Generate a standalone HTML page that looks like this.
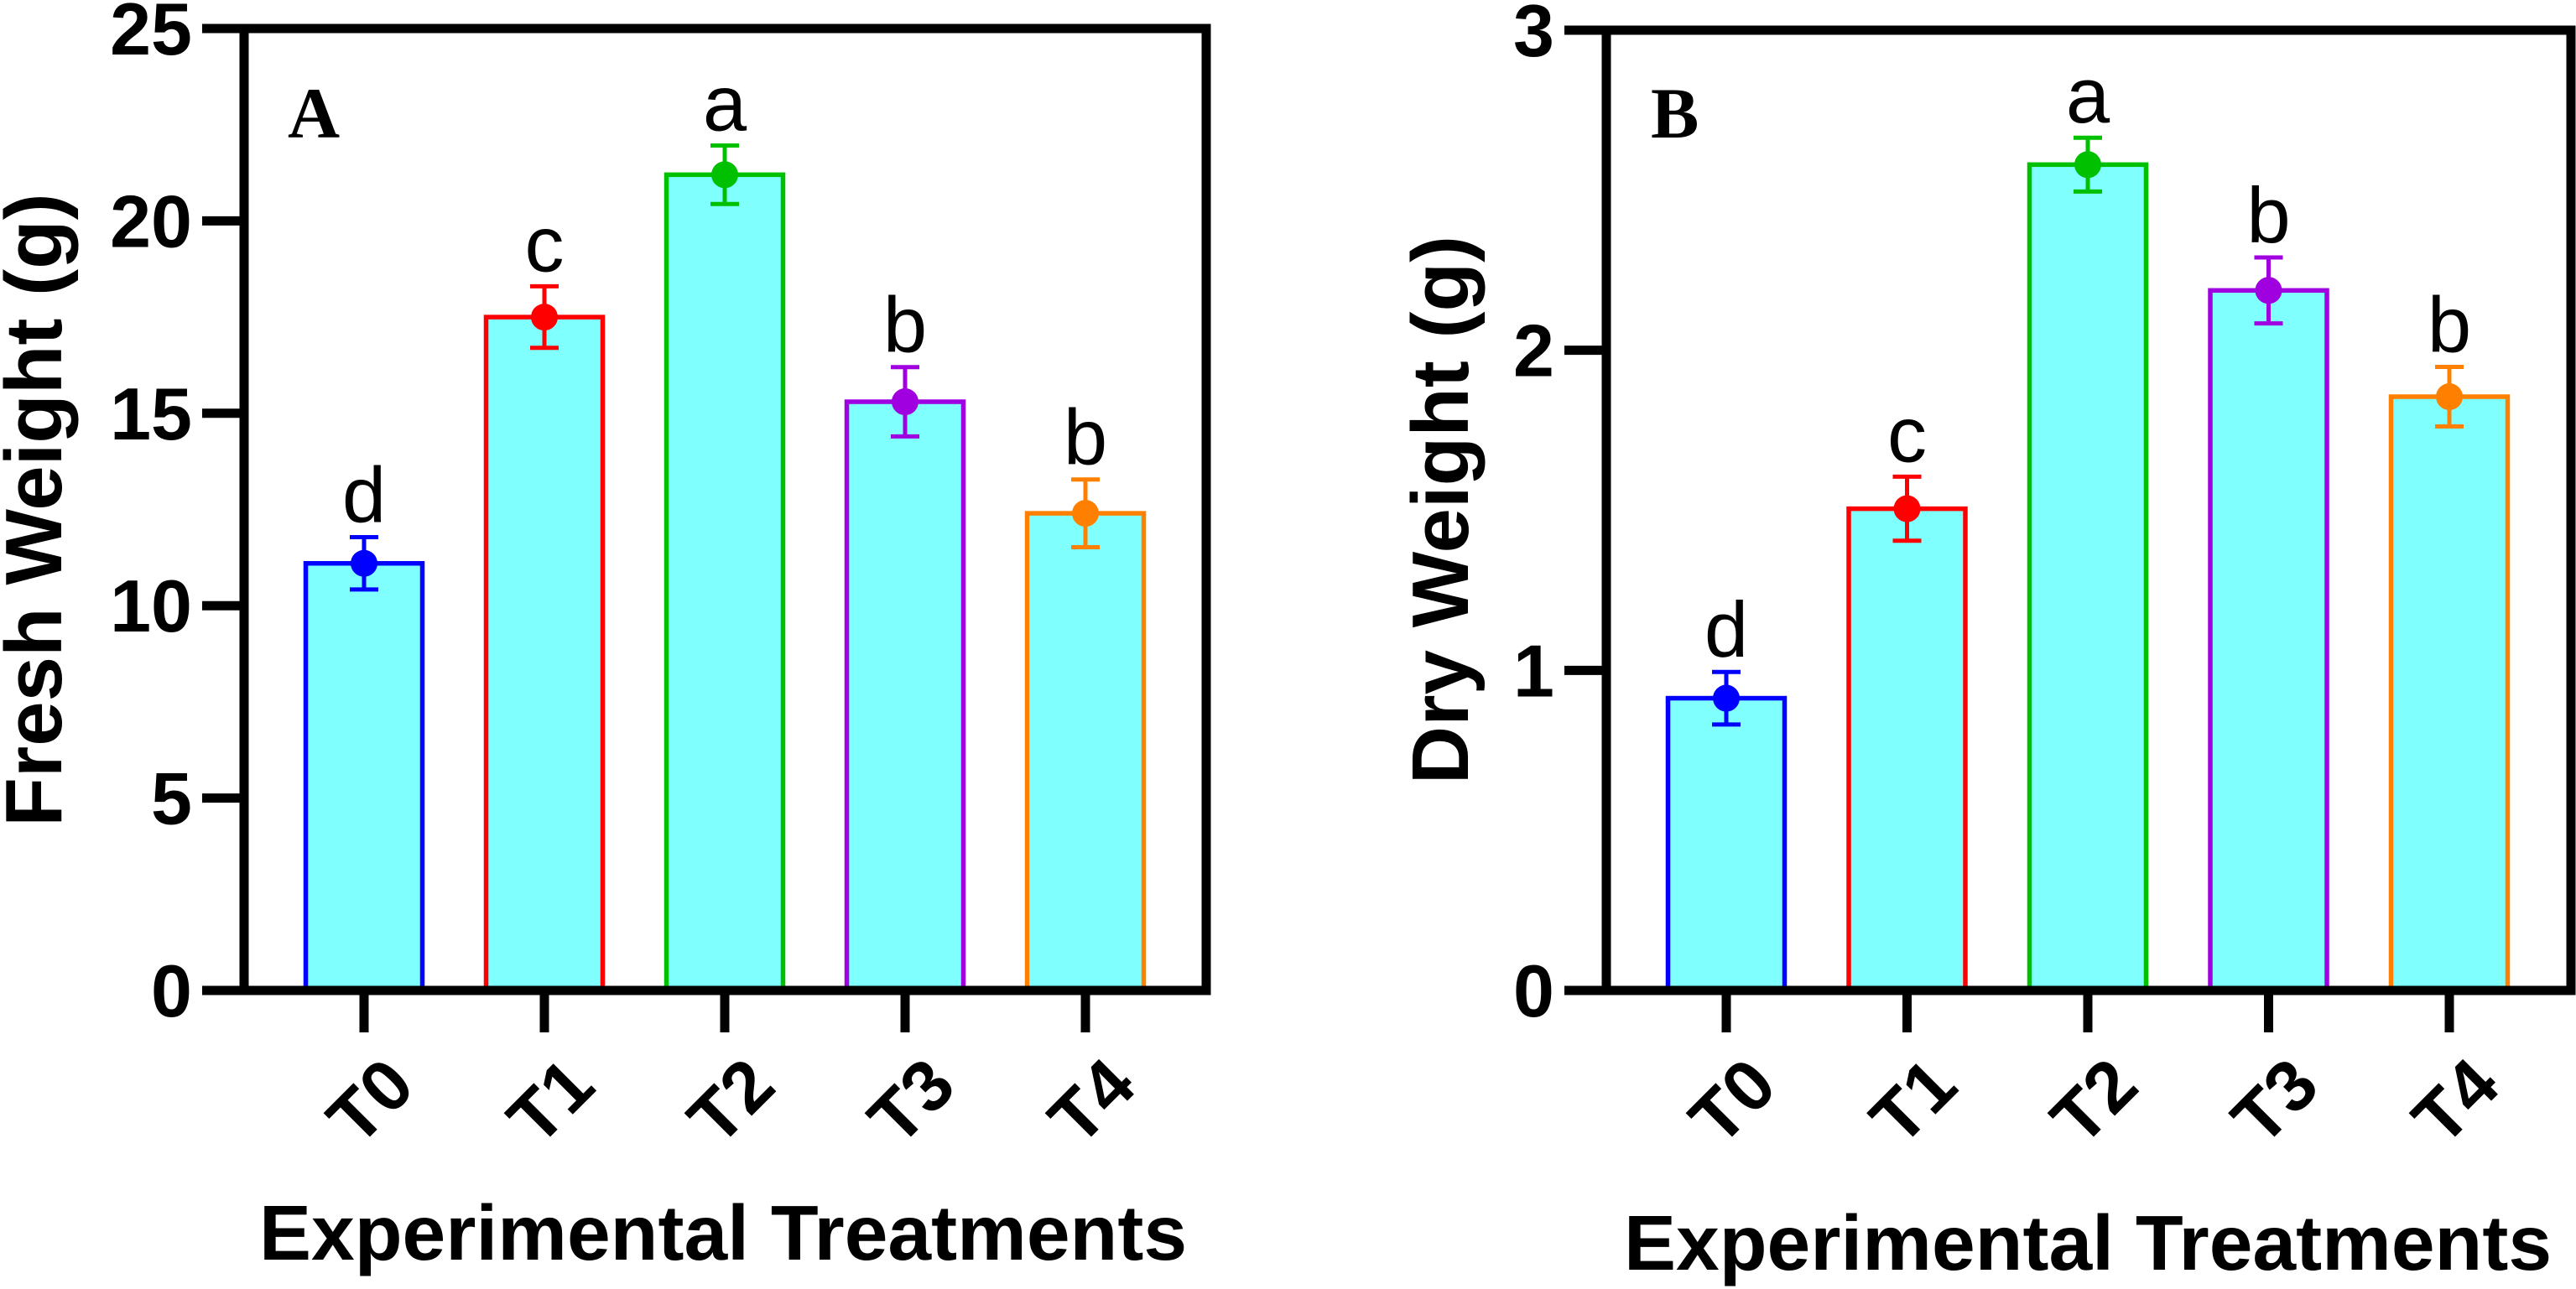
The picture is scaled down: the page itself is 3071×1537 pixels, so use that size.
<!DOCTYPE html>
<html><head><meta charset="utf-8"><style>
html,body{margin:0;padding:0;background:#fff;}
svg{display:block;}
text{font-family:"Liberation Sans",Arial,sans-serif;}
text.serif{font-family:"Liberation Serif","Times New Roman",serif;}
</style></head><body>
<svg id="chart" width="3071" height="1537" viewBox="0 0 3071 1537" xmlns="http://www.w3.org/2000/svg"></svg>
<script>
const categories = ["T0","T1","T2","T3","T4"];
const colors = ["#0000ff","#ff0000","#00c000","#a000e0","#ff8000"];
const freshValues = [11.1, 17.5, 21.2, 15.3, 12.4];
const freshErrors = [0.68, 0.8, 0.76, 0.9, 0.88];
const freshLetters = ["d","c","a","b","b"];
const freshTicks = [0,5,10,15,20,25];
const dryValues = [0.913, 1.505, 2.58, 2.187, 1.855];
const dryErrors = [0.082, 0.10, 0.084, 0.103, 0.093];
const dryLetters = ["d","c","a","b","b"];
const dryTicks = [0,1,2,3];

const NS = "http://www.w3.org/2000/svg";
const svg = document.getElementById("chart");
function mk(tag, attrs, parent){
  const e = document.createElementNS(NS, tag);
  for (const k in attrs) e.setAttribute(k, attrs[k]);
  (parent||svg).appendChild(e);
  return e;
}

function panel(cfg){
  const g = mk("g", {});
  
  
  const x0 = cfg.x0, x1 = cfg.x1, yTop = cfg.yTop, yBot = 1181;
  const yScale = v => yBot - (v / cfg.max) * (yBot - yTop);
  const xScale = i => cfg.firstCenter + i * cfg.step;
  categories.forEach((c, i) => {
    const cx = xScale(i), v = cfg.values[i], e = cfg.errors[i];
    const bar = mk("rect", {x: cx - 69.5, y: yScale(v), width: 139, height: yBot - yScale(v), fill: "#80ffff", stroke: colors[i], "stroke-width": 5.5}, g);
    
    
    const eb = mk("path", {d: `M${cx-17},${yScale(v+e)}H${cx+17}M${cx},${yScale(v+e)}V${yScale(v-e)}M${cx-17},${yScale(v-e)}H${cx+17}`, stroke: colors[i], "stroke-width": 5, fill: "none"}, g);
    
    
    const dot = mk("circle", {cx: cx, cy: yScale(v), r: 16, fill: colors[i]}, g);
    
    
    const lt = mk("text", {x: cx, y: yScale(v+e) - 18, "font-size": 94, "text-anchor": "middle", fill: "#000"}, g);
    lt.textContent = cfg.letters[i];
    
    
    const tk = mk("line", {x1: cx, x2: cx, y1: yBot, y2: 1231, stroke: "#000", "stroke-width": 11}, g);
    
    
    const tl = mk("text", {x: 0, y: 0, "font-size": 86, "font-weight": "bold", "text-anchor": "end", transform: `translate(${cx+20},${1255}) rotate(-45)`, dy: "0.72em"}, g);
    tl.textContent = c;
    
    
  });
  const fr = mk("path", {d: `M${x0},${yTop}H${x1}V${yBot}H${x0}Z`, fill: "none", stroke: "#000", "stroke-width": 11, "stroke-linejoin": "miter"}, g);
  
  
  cfg.ticks.forEach(t => {
    const y = yScale(t);
    const tk = mk("line", {x1: x0 - 50, x2: x0, y1: y, y2: y, stroke: "#000", "stroke-width": 11}, g);
    
    
    const tl = mk("text", {x: x0 - 62, y: y + 31, "font-size": 88, "font-weight": "bold", "text-anchor": "end"}, g);
    tl.textContent = t;
    
    
  });
  const pl = mk("text", {x: cfg.labelX, y: 164, "font-size": 86, "font-weight": "bold", "class": "serif"}, g);
  pl.textContent = cfg.panelLabel;
  
  
  const yt = mk("text", {x: 0, y: 0, "font-size": 96, "font-weight": "bold", "text-anchor": "middle", transform: `translate(${cfg.yTitleX},608) rotate(-90)`}, g);
  yt.textContent = cfg.yTitle;
  
  
  const xt = mk("text", {x: cfg.xTitleX, y: cfg.xTitleY, "font-size": 93, "font-weight": "bold", "text-anchor": "middle"}, g);
  xt.textContent = "Experimental Treatments";
  
  
}

panel({name: "panel-a-fresh-weight", x0: 291, x1: 1438, yTop: 34, max: 25, firstCenter: 434, step: 215,
  values: freshValues, errors: freshErrors, letters: freshLetters, ticks: freshTicks,
  panelLabel: "A", labelX: 343, yTitle: "Fresh Weight (g)", yTitleX: 73, xTitleX: 862, xTitleY: 1502});
panel({name: "panel-b-dry-weight", x0: 1915, x1: 3065, yTop: 36, max: 3, firstCenter: 2058, step: 215.5,
  values: dryValues, errors: dryErrors, letters: dryLetters, ticks: dryTicks,
  panelLabel: "B", labelX: 1968, yTitle: "Dry Weight (g)", yTitleX: 1750, xTitleX: 2489, xTitleY: 1514});
</script>
</body></html>
